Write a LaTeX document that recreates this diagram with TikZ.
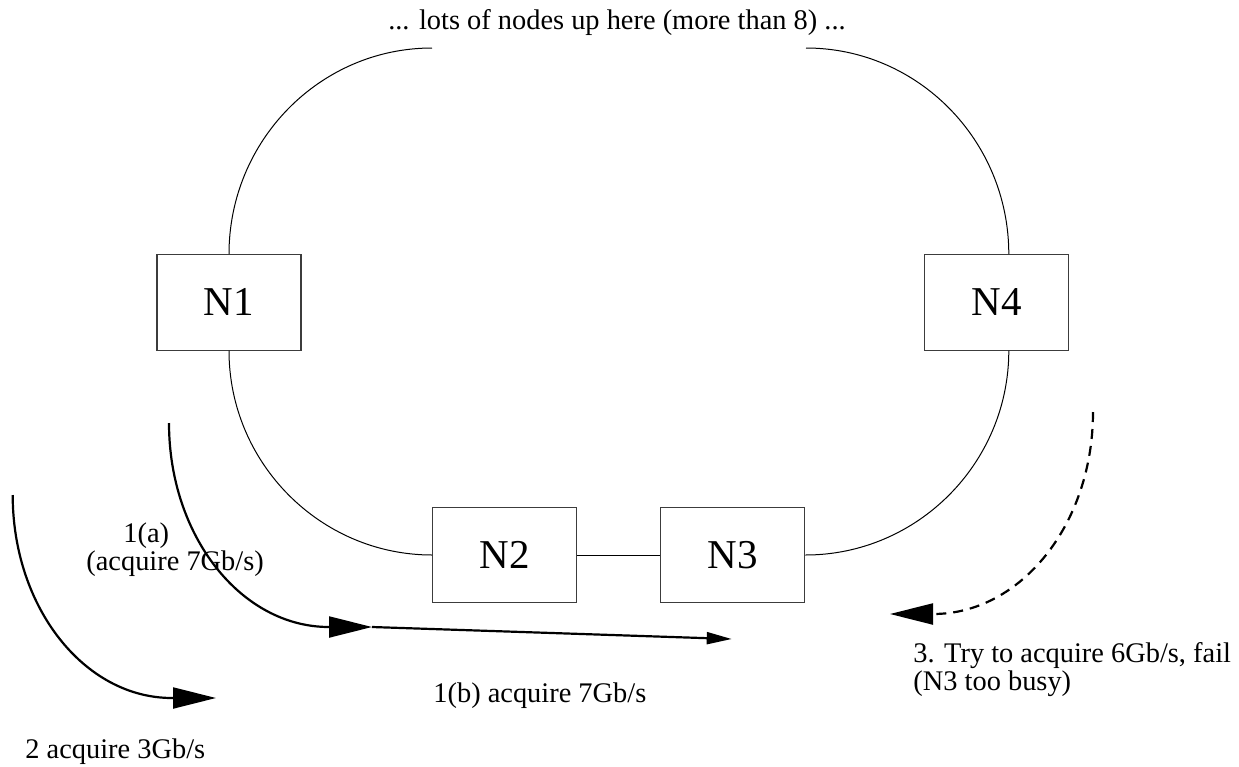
\documentclass[tikz,border=0pt]{standalone}
\usepackage{fontspec}
\setmainfont{Liberation Serif}
\usepackage{tikz}
\usetikzlibrary{arrows.meta}
\definecolor{boxGray}{RGB}{60, 60, 60}
\definecolor{lineBlack}{RGB}{0, 0, 0}

\begin{document}
\begin{tikzpicture}[x=0.5pt, y=-0.5pt]
            \tikzstyle{ringnode} = [draw=boxGray, line width=0.6pt, minimum width=72pt, minimum height=47.7pt, inner sep=0pt, font=\fontsize{20.5}{24}\selectfont]
            \tikzstyle{link} = [draw=lineBlack, line width=0.5pt]
            \tikzstyle{flow} = [draw=lineBlack, line width=1.1pt, -{Triangle[length=21.5pt, width=10.5pt]}]
            \tikzstyle{note} = [inner sep=0pt, anchor=base west, align=left, font=\fontsize{14.2}{14}\selectfont]

            \useasboundingbox (0,0) rectangle (1239,767);

            % the ring
            \node[ringnode] (n1) at (229,302.4) {N1};
            \node[ringnode] (n2) at (504.8,555) {N2};
            \node[ringnode] (n3) at (732.8,555) {N3};
            \node[ringnode] (n4) at (996.8,302.4) {N4};

            \coordinate (topleft) at (432,48);
            \coordinate (topright) at (806,48);

            \draw[link] (n1.north) .. controls (229,140.6) and (320,48) .. (topleft);
            \draw[link] (topright) .. controls (918,48) and (1008.8,140.6) .. ([xshift=6pt]n4.north);
            \draw[link] (n1.south) .. controls (229,463) and (320.3,555) .. (n2.west);
            \draw[link] (n2.east) -- (n3.west);
            \draw[link] (n3.east) .. controls (917.5,555) and (1008.8,463) .. ([xshift=6pt]n4.south);

            \node[anchor=base, inner sep=0pt, font=\fontsize{14.2}{14}\selectfont] (upper) at (617,29) {... lots of nodes up here (more than 8) ...};

            % the requests
            \coordinate (oneastart) at (169,423);
            \coordinate (oneaend) at (372,627);
            \coordinate (onebend) at (731.7,639);
            \coordinate (twostart) at (12.7,495);
            \coordinate (twoend) at (216,698);
            \coordinate (threestart) at (1093,412);
            \coordinate (threeend) at (890,614);

            \draw[flow] (oneastart) .. controls (169,536) and (241,627) .. (329,627) -- (oneaend);
            \draw[flow, -{Triangle[length=12.5pt, width=6pt]}] (oneaend) -- (onebend);
            \draw[flow] (twostart) .. controls (12.7,607) and (84,698) .. (172,698) -- (twoend);
            \draw[flow, dash pattern=on 5pt off 3.5pt] (threestart) .. controls (1093,524) and (1021,614) .. (933,614) -- (threeend);

            \node[note] (lblonea) at (86,570) {\hspace*{18.5pt}1(a)\\(acquire 7Gb/s)};
            \node[note] (lbloneb) at (433,702) {1(b) acquire 7Gb/s};
            \node[note] (lbltwo) at (25,758) {2 acquire 3Gb/s};
            \node[note] (lblthree) at (913,690) {3. Try to acquire 6Gb/s, fail\\(N3 too busy)};
        \end{tikzpicture}
\end{document}
